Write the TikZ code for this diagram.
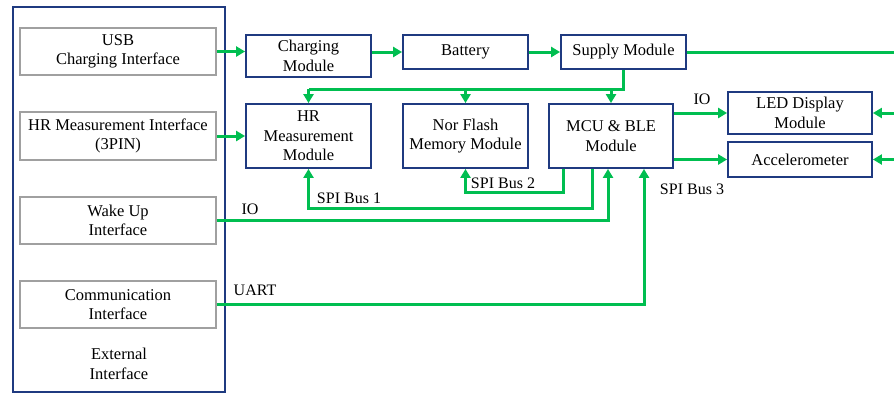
\documentclass[tikz,border=0pt]{standalone}
\usepackage{fontspec}
\setmainfont{Liberation Serif}
\usetikzlibrary{arrows.meta}
\definecolor{navy}{HTML}{1F3A80}
\definecolor{gbox}{HTML}{A0A0A0}
\definecolor{gline}{HTML}{00BE50}
\begin{document}
\begin{tikzpicture}[x=1pt,y=-1pt,
  every node/.style={font=\fontsize{16.5}{19.5}\selectfont, align=center, inner sep=0pt},
  bbox/.style={draw=navy, line width=1.8pt, fill=white},
  gry/.style={draw=gbox, line width=1.8pt, fill=white},
  wire/.style={draw=gline, line width=3pt},
  arr/.style={wire, -{Triangle[length=9pt,width=10pt]}},
  lbl/.style={font=\fontsize{16}{19}\selectfont}]
\useasboundingbox (0,0) rectangle (894,394);
% outer external interface box
\node[bbox, minimum width=212pt, minimum height=385pt] (ext) at (119,199.5) {};
\node (extl) at (119,364) {External\\Interface};
% left interface boxes
\node[gry, minimum width=196pt, minimum height=47pt] (usb) at (118,51.5) {USB\\Charging Interface};
\node[gry, minimum width=196pt, minimum height=48pt] (hri) at (118,136) {HR Measurement Interface\\(3PIN)};
\node[gry, minimum width=196pt, minimum height=47pt] (wake) at (118,220.5) {Wake Up\\Interface};
\node[gry, minimum width=196pt, minimum height=47pt] (comm) at (118,304.5) {Communication\\Interface};
% modules
\node[bbox, minimum width=125pt, minimum height=42pt] (charge) at (308.5,56) {Charging\\Module};
\node[bbox, minimum width=125pt, minimum height=34pt] (batt) at (465.5,52) {Battery};
\node[bbox, minimum width=125pt, minimum height=34pt] (supply) at (623.5,52) {Supply Module};
\node[bbox, minimum width=125pt, minimum height=64pt] (hrm) at (308.5,136) {HR\\Measurement\\Module};
\node[bbox, minimum width=125pt, minimum height=64pt] (nor) at (465.5,136) {Nor Flash\\Memory Module};
\node[bbox, minimum width=124pt, minimum height=64pt] (mcu) at (611,136) {MCU \& BLE\\Module};
\node[bbox, minimum width=144pt, minimum height=42pt] (led) at (800,113) {LED Display\\Module};
\node[bbox, minimum width=144pt, minimum height=35pt] (acc) at (800,159.5) {Accelerometer};
% helper coordinates
\coordinate (re) at (894,0);
\coordinate (bus) at (0,89);
\coordinate (s2) at (563,192);
\coordinate (s1) at (592,208);
\coordinate (wx) at (608,0);
\coordinate (ux) at (644,0);
% connectors
\draw[arr] (usb.east) -- (usb.east -| charge.west);
\draw[arr] (hri.east) -- (hri.east -| hrm.west);
\draw[arr] (charge.east |- batt.west) -- (batt.west);
\draw[arr] (batt.east) -- (supply.west);
\draw[wire] (supply.east) -- (supply.east -| re);
\draw[wire] (supply.south) |- (bus -| hrm.north);
\draw[arr] (bus -| hrm.north) -- (hrm.north);
\draw[arr] (bus -| nor.north) -- (nor.north);
\draw[arr] (bus -| mcu.north) -- (mcu.north);
\draw[arr] (mcu.east |- led.west) -- (led.west);
\draw[arr] (mcu.east |- acc.west) -- (acc.west);
\draw[arr] (re |- led.east) -- (led.east);
\draw[arr] (re |- acc.east) -- (acc.east);
\draw[arr] (mcu.south -| s2) |- (nor.south |- s2) -- (nor.south);
\draw[arr] (mcu.south -| s1) |- (hrm.south |- s1) -- (hrm.south);
\draw[arr] (wake.east) -| (mcu.south -| wx);
\draw[arr] (comm.east) -| (mcu.south -| ux);
% labels
\node[lbl] (lio1) at (250,209) {IO};
\node[lbl] (luart) at (255,290) {UART};
\node[lbl] (lspi1) at (349,198) {SPI Bus 1};
\node[lbl] (lspi2) at (503,183) {SPI Bus 2};
\node[lbl] (lspi3) at (692,189) {SPI Bus 3};
\node[lbl] (lio2) at (702,99) {IO};
\end{tikzpicture}
\end{document}
